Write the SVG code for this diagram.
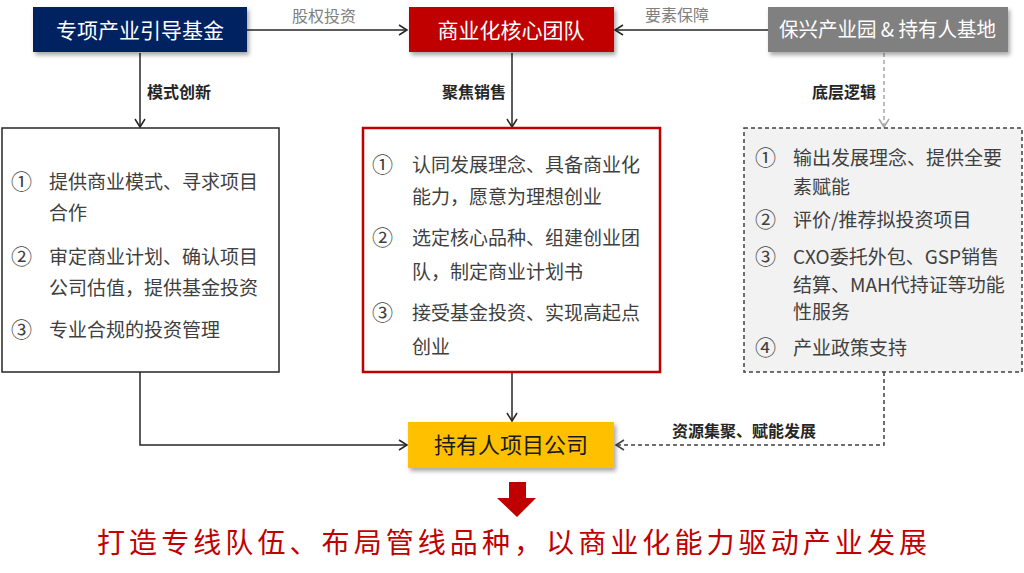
<svg xmlns="http://www.w3.org/2000/svg" width="1024" height="573" viewBox="0 0 1024 573">
<defs>
<style>
text{font-family:"Noto Sans CJK SC","Microsoft YaHei",sans-serif;}
.title{font-size:21px;fill:#ffffff;text-anchor:middle;}
.item{font-size:19px;fill:#404040;}
.num{font-size:21px;fill:#404040;}
.lbl{font-size:16px;fill:#262626;font-weight:bold;}
.glbl{font-size:16px;fill:#808080;}
.line{fill:none;stroke:#262626;stroke-width:1.5;}
.dash{fill:none;stroke:#404040;stroke-width:1.5;stroke-dasharray:4 3;}
.gdash{fill:none;stroke:#a6a6a6;stroke-width:1.5;stroke-dasharray:4 3;}
</style>
<filter id="sh" x="-10%" y="-20%" width="130%" height="150%">
<feDropShadow dx="2" dy="3" stdDeviation="2" flood-color="#000000" flood-opacity="0.35"/>
</filter>
<marker id="ah" markerUnits="userSpaceOnUse" markerWidth="12" markerHeight="12" refX="9" refY="6" orient="auto">
<path d="M1,1 L9,6 L1,11" fill="none" stroke="#262626" stroke-width="1.5"/>
</marker>
<marker id="ahd" markerUnits="userSpaceOnUse" markerWidth="12" markerHeight="12" refX="9" refY="6" orient="auto">
<path d="M1,1 L9,6 L1,11" fill="none" stroke="#404040" stroke-width="1.5"/>
</marker>
<marker id="ahg" markerUnits="userSpaceOnUse" markerWidth="12" markerHeight="12" refX="9" refY="6" orient="auto">
<path d="M1,1 L9,6 L1,11" fill="none" stroke="#a6a6a6" stroke-width="1.5"/>
</marker>
</defs>
<rect width="1024" height="573" fill="#ffffff"/>

<g id="connectors">
<path class="line" d="M247,30 H407" marker-end="url(#ah)"/>
<path class="line" d="M768,30 H615" marker-end="url(#ah)"/>
<path class="line" d="M140,53 V127" marker-end="url(#ah)"/>
<path class="line" d="M512,53 V127" marker-end="url(#ah)"/>
<path class="gdash" d="M884,53 V127" marker-end="url(#ahg)"/>
<path class="line" d="M140,372 V445 H407" marker-end="url(#ah)"/>
<path class="line" d="M512,372 V421" marker-end="url(#ah)"/>
<path class="dash" d="M884,372 V445 H616" marker-end="url(#ahd)"/>
<text class="glbl" x="292" y="22">股权投资</text>
<text class="glbl" x="645" y="21">要素保障</text>
<text class="lbl" x="147" y="98">模式创新</text>
<text class="lbl" x="442" y="98">聚焦销售</text>
<text class="lbl" x="812" y="98">底层逻辑</text>
<text class="lbl" x="672" y="437">资源集聚、赋能发展</text>
</g>

<g id="fund">
<rect x="33" y="7" width="214" height="45" fill="#002060" filter="url(#sh)"/>
<text class="title" x="140" y="38" font-size="22">专项产业引导基金</text>
</g>

<g id="team">
<rect x="409" y="7" width="205" height="45" fill="#c00000" filter="url(#sh)"/>
<text class="title" x="511" y="38" font-size="22">商业化核心团队</text>
</g>

<g id="park">
<rect x="768" y="7" width="240" height="45" fill="#808080" filter="url(#sh)"/>
<text x="779" y="37" font-size="20" fill="#ffffff" textLength="217" lengthAdjust="spacingAndGlyphs">保兴产业园 &amp; 持有人基地</text>
</g>

<g id="fund-detail">
<rect x="2" y="128" width="277" height="244" fill="#ffffff" stroke="#262626" stroke-width="1.5"/>
<text class="num" x="11" y="189">①</text>
<text class="item" x="49" y="189">提供商业模式、寻求项目</text>
<text class="item" x="49" y="220">合作</text>
<text class="num" x="11" y="264">②</text>
<text class="item" x="49" y="264">审定商业计划、确认项目</text>
<text class="item" x="49" y="295">公司估值，提供基金投资</text>
<text class="num" x="11" y="337">③</text>
<text class="item" x="49" y="337">专业合规的投资管理</text>
</g>

<g id="team-detail">
<rect x="363" y="128" width="297" height="244" fill="#ffffff" stroke="#c00000" stroke-width="2.5"/>
<text class="num" x="372" y="172">①</text>
<text class="item" x="412" y="172">认同发展理念、具备商业化</text>
<text class="item" x="412" y="204">能力，愿意为理想创业</text>
<text class="num" x="372" y="245">②</text>
<text class="item" x="412" y="245">选定核心品种、组建创业团</text>
<text class="item" x="412" y="279">队，制定商业计划书</text>
<text class="num" x="372" y="320">③</text>
<text class="item" x="412" y="320">接受基金投资、实现高起点</text>
<text class="item" x="412" y="354">创业</text>
</g>

<g id="park-detail">
<rect x="744" y="128" width="278" height="244" fill="#f2f2f2" stroke="#404040" stroke-width="1.5" stroke-dasharray="4 3"/>
<text class="num" x="755" y="165">①</text>
<text class="item" x="793" y="165">输出发展理念、提供全要</text>
<text class="item" x="793" y="194">素赋能</text>
<text class="num" x="755" y="227">②</text>
<text class="item" x="793" y="227">评价/推荐拟投资项目</text>
<text class="num" x="755" y="264">③</text>
<text class="item" x="793" y="264">CXO委托外包、GSP销售</text>
<text class="item" x="793" y="292">结算、MAH代持证等功能</text>
<text class="item" x="793" y="319">性服务</text>
<text class="num" x="755" y="355">④</text>
<text class="item" x="793" y="355">产业政策支持</text>
</g>

<g id="company">
<rect x="408" y="422" width="206" height="46" fill="#ffc000" filter="url(#sh)"/>
<text x="511" y="453" font-size="22" fill="#1a1a1a" text-anchor="middle">持有人项目公司</text>
</g>

<g id="result">
<path d="M509,482 H526 V498 H536 L517,517 L497,498 H509 Z" fill="#c00000"/>
<text x="97" y="553" font-size="28" fill="#c00000" textLength="830" lengthAdjust="spacing">打造专线队伍、布局管线品种，以商业化能力驱动产业发展</text>
</g>
</svg>
